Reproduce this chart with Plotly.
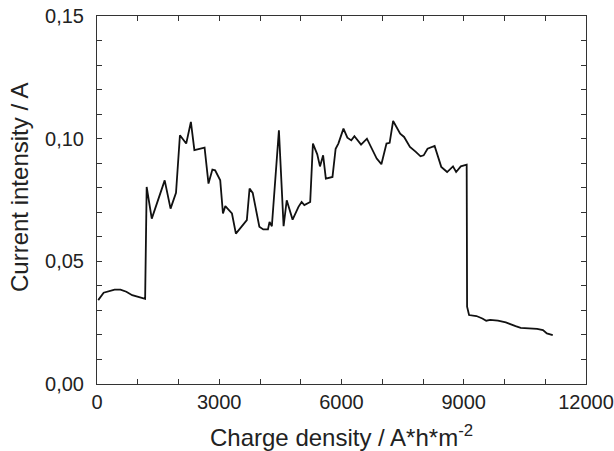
import plotly.graph_objects as go

charge_density = [30, 163, 432, 576, 720, 864, 1056, 1181, 1219, 1344, 1661, 1805, 1939, 2035, 2189, 2304,
                  2390, 2640, 2736, 2832, 2899, 3024, 3091, 3149, 3312, 3408, 3677, 3744, 3821, 3984, 4080,
                  4195, 4234, 4291, 4464, 4579, 4656, 4800, 4944, 5021, 5088, 5232, 5299, 5405, 5472, 5549,
                  5616, 5779, 5856, 5923, 6048, 6144, 6240, 6317, 6480, 6624, 6864, 6979, 7104, 7181, 7267,
                  7440, 7536, 7680, 7824, 7939, 8016, 8112, 8285, 8448, 8592, 8736, 8813, 8928, 9072, 9082,
                  9130, 9312, 9456, 9552, 9648, 9840, 10032, 10176, 10272, 10397, 10560, 10800, 10944, 11040,
                  11184]
current = [0.0342, 0.0372, 0.0385, 0.0385, 0.0376, 0.0362, 0.0353, 0.0347, 0.0803, 0.0674, 0.0830, 0.0715,
           0.0779, 0.1014, 0.0980, 0.1068, 0.0953, 0.0963, 0.0817, 0.0874, 0.0871, 0.0830, 0.0695, 0.0725,
           0.0695, 0.0613, 0.0668, 0.0797, 0.0779, 0.0641, 0.0630, 0.0630, 0.0661, 0.0643, 0.1034, 0.0643,
           0.0749, 0.0670, 0.0722, 0.0742, 0.0729, 0.0742, 0.0980, 0.0936, 0.0887, 0.0932, 0.0837, 0.0844,
           0.0959, 0.0980, 0.1041, 0.1004, 0.0993, 0.1010, 0.0976, 0.1000, 0.0919, 0.0896, 0.0980, 0.0983,
           0.1072, 0.1020, 0.1007, 0.0966, 0.0946, 0.0928, 0.0932, 0.0959, 0.0970, 0.0885, 0.0864, 0.0887,
           0.0864, 0.0887, 0.0894, 0.0315, 0.0281, 0.0277, 0.0267, 0.0258, 0.0261, 0.0258, 0.0251, 0.0240,
           0.0236, 0.0229, 0.0227, 0.0225, 0.0220, 0.0206, 0.0199]

x_tick_vals = [0, 3000, 6000, 9000, 12000]
x_tick_text = ["0", "3000", "6000", "9000", "12000"]
y_tick_vals = [0.0, 0.05, 0.10, 0.15]
y_tick_text = ["0,00", "0,05", "0,10", "0,15"]
x_title = "Charge density / A*h*m<sup>-2</sup>"
y_title = "Current intensity / A"

fig = go.Figure()
fig.add_trace(go.Scatter(x=charge_density, y=current, mode="lines",
                         line=dict(color="#111111", width=1.8), showlegend=False))

font_family = "Liberation Sans, Arial, sans-serif"
axis_common = dict(
    showline=True, linecolor="#333333", linewidth=1, mirror="allticks",
    ticks="inside", ticklen=5, tickcolor="#333333", tickwidth=1,
    showgrid=False, zeroline=False, automargin=False,
    tickfont=dict(family=font_family, size=20, color="#222222"),
)
fig.update_layout(
    width=614, height=451,
    margin=dict(l=97, r=28, t=16, b=67),
    paper_bgcolor="white", plot_bgcolor="white",
    font=dict(family=font_family, color="#222222"),
)
fig.update_xaxes(range=[0, 12000], tickmode="array", tickvals=x_tick_vals, ticktext=x_tick_text,
                 minor=dict(dtick=1000, tick0=0, ticks="inside", ticklen=5, tickcolor="#333333"),
                 **axis_common)
fig.update_yaxes(range=[0, 0.15], tickmode="array", tickvals=y_tick_vals, ticktext=y_tick_text,
                 minor=dict(dtick=0.01, tick0=0, ticks="inside", ticklen=5, tickcolor="#333333"),
                 ticklabelstandoff=8,
                 **axis_common)

fig.add_annotation(text=x_title, xref="paper", yref="paper", x=0.5, y=0,
                   xanchor="center", yanchor="middle", yshift=-52, showarrow=False,
                   font=dict(family=font_family, size=24, color="#222222"))
fig.add_annotation(text=y_title, xref="paper", yref="paper", x=0, y=0.5,
                   xanchor="center", yanchor="middle", xshift=-78, yshift=12, textangle=-90,
                   showarrow=False, font=dict(family=font_family, size=24, color="#222222"))

fig.write_html("out.html", config={"displayModeBar": False},
               post_script="document.body.style.margin='0';")
